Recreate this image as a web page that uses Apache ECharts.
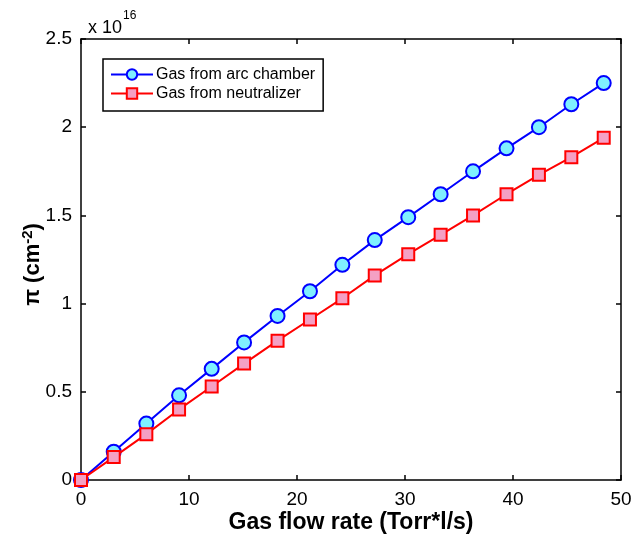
<!DOCTYPE html>
<html>
<head>
<meta charset="utf-8">
<script src="https://cdn.jsdelivr.net/npm/echarts@6/dist/echarts.min.js"></script>
<style>
  html, body { margin: 0; padding: 0; background: #fff; }
  #chart { width: 632px; height: 534px; }
</style>
</head>
<body>
<div id="chart"></div>
<script>
  // flow rate (Torr*l/s)
  const flow = [0, 3.03, 6.05, 9.08, 12.1, 15.1, 18.2, 21.2, 24.2, 27.2, 30.3, 33.3, 36.3, 39.4, 42.4, 45.4, 48.4]
  // pi in units of 1e16 cm^-2
  const arcChamber = [0, 0.16, 0.32, 0.48, 0.63, 0.78, 0.93, 1.07, 1.22, 1.36, 1.49, 1.62, 1.75, 1.88, 2.00, 2.13, 2.25]
  const neutralizer = [0, 0.13, 0.26, 0.40, 0.53, 0.66, 0.79, 0.91, 1.03, 1.16, 1.28, 1.39, 1.50, 1.62, 1.73, 1.83, 1.94]
  const xTicks = [0, 10, 20, 30, 40, 50]
  const yTicks = [0, 0.5, 1, 1.5, 2, 2.5]

  const pair = (xs, ys) => xs.map((x, i) => [x, ys[i]])

  const myChart = echarts.init(document.getElementById('chart'))
  const font = 'Liberation Sans, Arial, sans-serif'
  const black = '#000'

  const axisBase = {
    type: 'value',
    axisLine: { show: true, onZero: false, lineStyle: { color: black, width: 1.5 } },
    axisTick: { show: true, inside: true, length: 5, lineStyle: { color: black, width: 1.5 } },
    splitLine: { show: false }
  }

  const option = {
    animation: false,
    backgroundColor: '#fff',
    title: {
      left: 83,
      top: 5,
      text: '{a|x 10}{s|16}',
      textStyle: {
        rich: {
          a: { fontFamily: font, fontSize: 18, fontWeight: 'normal', color: black, padding: [9, 0, 0, 0] },
          s: { fontFamily: font, fontSize: 12, fontWeight: 'normal', color: black, verticalAlign: 'top', padding: [0, 0, 9, 1] }
        }
      }
    },
    legend: {
      orient: 'vertical',
      left: 103,
      top: 59,
      padding: [7, 8, 9, 7],
      itemGap: 2,
      itemWidth: 42,
      itemHeight: 13,
      borderColor: black,
      borderWidth: 1.5,
      textStyle: { fontFamily: font, fontSize: 16, lineHeight: 17, color: black, padding: [0, 0, 0, -2] },
      data: ['Gas from arc chamber', 'Gas from neutralizer']
    },
    grid: { left: 81, right: 11, top: 39, bottom: 54, outerBoundsMode: 'none' },
    xAxis: [
      Object.assign({}, axisBase, {
        min: xTicks[0], max: xTicks[xTicks.length - 1], interval: 10,
        name: 'Gas flow rate (Torr*l/s)',
        nameLocation: 'middle',
        nameMoveOverlap: false,
        nameGap: 31,
        nameTextStyle: { fontFamily: font, fontSize: 23, fontWeight: 'bold', color: black },
        axisLabel: { fontFamily: font, fontSize: 19, color: black, margin: 10 }
      }),
      Object.assign({}, axisBase, {
        position: 'top',
        min: xTicks[0], max: xTicks[xTicks.length - 1], interval: 10,
        axisLabel: { show: false }
      })
    ],
    yAxis: [
      Object.assign({}, axisBase, {
        min: yTicks[0], max: yTicks[yTicks.length - 1], interval: 0.5,
        name: '{b|π (cm}{s|-2}{b|)}',
        nameLocation: 'middle',
        nameMoveOverlap: false,
        nameGap: 36,
        nameTextStyle: {
          padding: [0, 0, 0, -10],
          rich: {
            b: { fontFamily: font, fontSize: 22, fontWeight: 'bold', color: black },
            s: { fontFamily: font, fontSize: 15, fontWeight: 'bold', color: black, verticalAlign: 'top', padding: [0, 0, 10, 0] }
          }
        },
        axisLabel: { fontFamily: font, fontSize: 19, color: black, margin: 9 }
      }),
      Object.assign({}, axisBase, {
        position: 'right',
        min: yTicks[0], max: yTicks[yTicks.length - 1], interval: 0.5,
        axisLabel: { show: false }
      })
    ],
    series: [
      {
        name: 'Gas from arc chamber',
        type: 'line',
        data: pair(flow, arcChamber),
        symbol: 'circle',
        symbolSize: 14,
        lineStyle: { color: '#0000ff', width: 2 },
        itemStyle: { color: '#7ff0ff', borderColor: '#0000ff', borderWidth: 2 },
        z: 2
      },
      {
        name: 'Gas from neutralizer',
        type: 'line',
        data: pair(flow, neutralizer),
        symbol: 'rect',
        symbolSize: 12,
        lineStyle: { color: '#ff0000', width: 2 },
        itemStyle: { color: '#f4a0c4', borderColor: '#ff0000', borderWidth: 2 },
        z: 3
      }
    ]
  }

  option && myChart.setOption(option)
</script>
</body>
</html>
